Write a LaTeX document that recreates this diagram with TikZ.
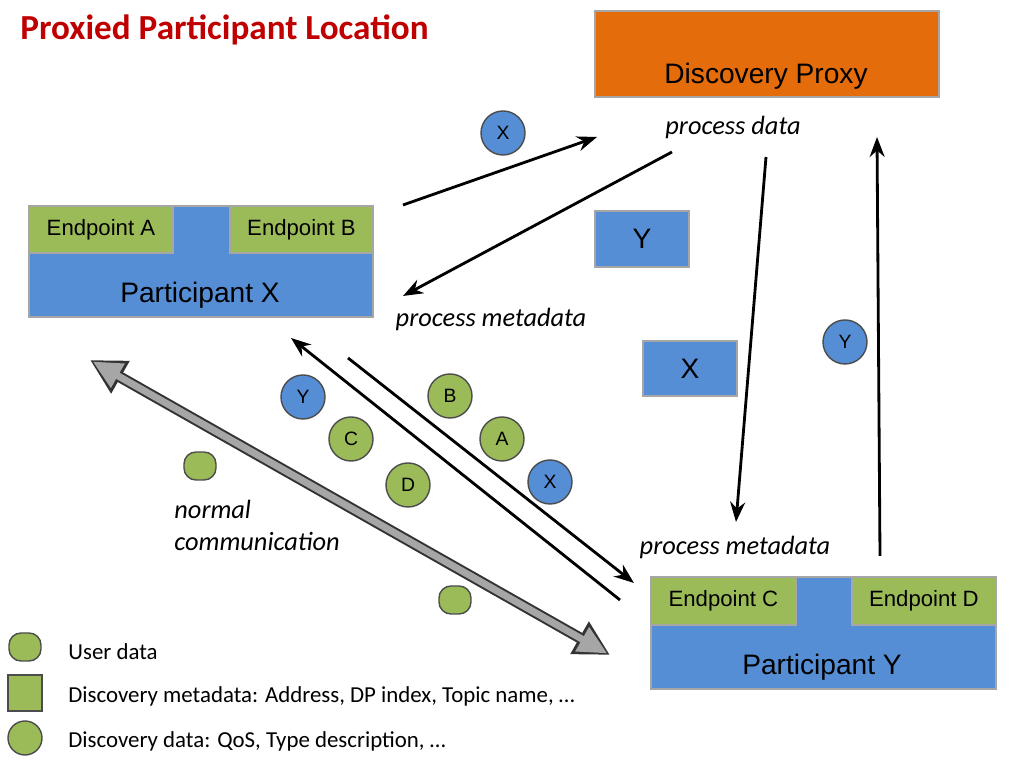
\documentclass[tikz,border=0pt]{standalone}
\usepackage{fontspec}
\setmainfont{Liberation Sans}
\newfontfamily\calib{Carlito}
\usetikzlibrary{arrows.meta,positioning}
\definecolor{proxyorange}{HTML}{E46C0A}
\definecolor{partblue}{HTML}{558ED5}
\definecolor{epgreen}{HTML}{9BBB59}
\definecolor{titlered}{HTML}{C00000}
\tikzset{
  box/.style={draw=gray!70, line width=0.5pt, inner sep=0pt, anchor=north west},
  part/.style={box, fill=partblue},
  ep/.style={box, fill=epgreen, font=\fontsize{6.3}{7}\selectfont},
  msg/.style={circle, draw=gray!60!black, inner sep=0pt, minimum size=0.44cm, font=\fontsize{5.5}{6}\selectfont},
  udata/.style={rectangle, rounded corners=1.2mm, draw=gray!60!black, fill=epgreen, inner sep=0pt, minimum width=0.32cm, minimum height=0.28cm},
  flow/.style={-{Stealth[length=2mm]}, line width=0.8pt},
  lbl/.style={font=\calib\itshape\fontsize{7.5}{9}\selectfont}
}
\begin{document}
\begin{tikzpicture}[x=0.01cm,y=-0.01cm]
\useasboundingbox (0,0) rectangle (1024,768);

% Title
\node[anchor=west, text=titlered, font=\calib\bfseries\fontsize{10}{12}\selectfont] (title) at (8,30) {Proxied Participant Location};

% Discovery proxy
\node[box, fill=proxyorange, minimum width=3.44cm, minimum height=0.86cm] (proxy) at (594,10) {};
\node[font=\fontsize{8}{9}\selectfont] (proxylbl) at (766,76) {Discovery Proxy};

% Participant X
\node[part, minimum width=3.44cm, minimum height=1.11cm] (px) at (28,205) {};
\node[ep, minimum width=1.44cm, minimum height=0.47cm] (epa) at (28,205) {Endpoint A};
\node[ep, minimum width=1.43cm, minimum height=0.47cm] (epb) at (229,205) {Endpoint B};
\node[font=\fontsize{8}{9}\selectfont] (pxlbl) at (200,295) {Participant X};

% Participant Y
\node[part, minimum width=3.45cm, minimum height=1.12cm] (py) at (650,576) {};
\node[ep, minimum width=1.45cm, minimum height=0.48cm] (epc) at (650,576) {Endpoint C};
\node[ep, minimum width=1.44cm, minimum height=0.48cm] (epd) at (851,576) {Endpoint D};
\node[font=\fontsize{8}{9}\selectfont] (pylbl) at (822,667) {Participant Y};

% Metadata boxes
\node[part, minimum width=0.94cm, minimum height=0.56cm, font=\fontsize{8}{9}\selectfont] (boxy) at (594,210) {Y};
\node[part, minimum width=0.94cm, minimum height=0.55cm, font=\fontsize{8}{9}\selectfont] (boxx) at (642,340) {X};

% Data messages
\node[msg, fill=partblue] (cx1) at (503,133) {X};
\node[msg, fill=partblue] (cy1) at (845,342) {Y};
\node[msg, fill=partblue] (cy2) at (303,397) {Y};
\node[msg, fill=epgreen] (cb) at (450,396) {B};
\node[msg, fill=epgreen] (cc) at (351,439) {C};
\node[msg, fill=epgreen] (ca) at (502,439) {A};
\node[msg, fill=epgreen] (cd) at (408,485) {D};
\node[msg, fill=partblue] (cx2) at (550,482) {X};

% User data
\node[udata] (ud1) at (200,466) {};
\node[udata] (ud2) at (455,600) {};

% Labels
\node[lbl] (pdata) at (733,127) {process data};
\node[lbl] (pmetax) at (491,319) {process metadata};
\node[lbl] (pmetay) at (735,547) {process metadata};
\node[lbl, anchor=north west, align=left] (normal) at (162,488) {normal\\communication};

% Connectors
\coordinate (a1s) at (403,205); \coordinate (a1e) at (597,137);
\coordinate (a2s) at (672,152); \coordinate (a2e) at (403,296);
\coordinate (a3s) at (766,157); \coordinate (a3e) at (736,522);
\coordinate (a4s) at (880,556); \coordinate (a4e) at (877,137);
\coordinate (a5s) at (348,358); \coordinate (a5e) at (634,583);
\coordinate (a6s) at (620,600); \coordinate (a6e) at (291,338);
\draw[flow] (a1s) -- (a1e);
\draw[flow] (a2s) -- (a2e);
\draw[flow] (a3s) -- (a3e);
\draw[flow] (a4s) -- (a4e);
\draw[flow] (a5s) -- (a5e);
\draw[flow] (a6s) -- (a6e);
\coordinate (n1) at (90,360); \coordinate (n2) at (610,655);
\draw[{Triangle[length=3.5mm,width=3.5mm]}-{Triangle[length=3.5mm,width=3.5mm]}, line width=1.1mm, gray!40!black] (n1) -- (n2);
\draw[{Triangle[length=2.9mm,width=2.6mm]}-{Triangle[length=2.9mm,width=2.6mm]}, line width=0.7mm, gray!70, shorten <=0.3mm, shorten >=0.3mm] (n1) -- (n2);

% Legend
\node[udata] (lud) at (25,647) {};
\node[rectangle, draw=gray!60!black, fill=epgreen, minimum width=0.34cm, minimum height=0.36cm, inner sep=0pt] (lmeta) at (25,693) {};
\node[circle, draw=gray!60!black, fill=epgreen, minimum size=0.34cm, inner sep=0pt] (ldata) at (25,738) {};
\node[anchor=west, font=\calib\fontsize{6.5}{8}\selectfont] (tud) at (56,652) {User data};
\node[anchor=west, font=\calib\fontsize{6.5}{8}\selectfont] (tmeta) at (56,696) {Discovery metadata: Address, DP index, Topic name, …};
\node[anchor=west, font=\calib\fontsize{6.5}{8}\selectfont] (tdata) at (56,741) {Discovery data: QoS, Type description, …};
\end{tikzpicture}
\end{document}
